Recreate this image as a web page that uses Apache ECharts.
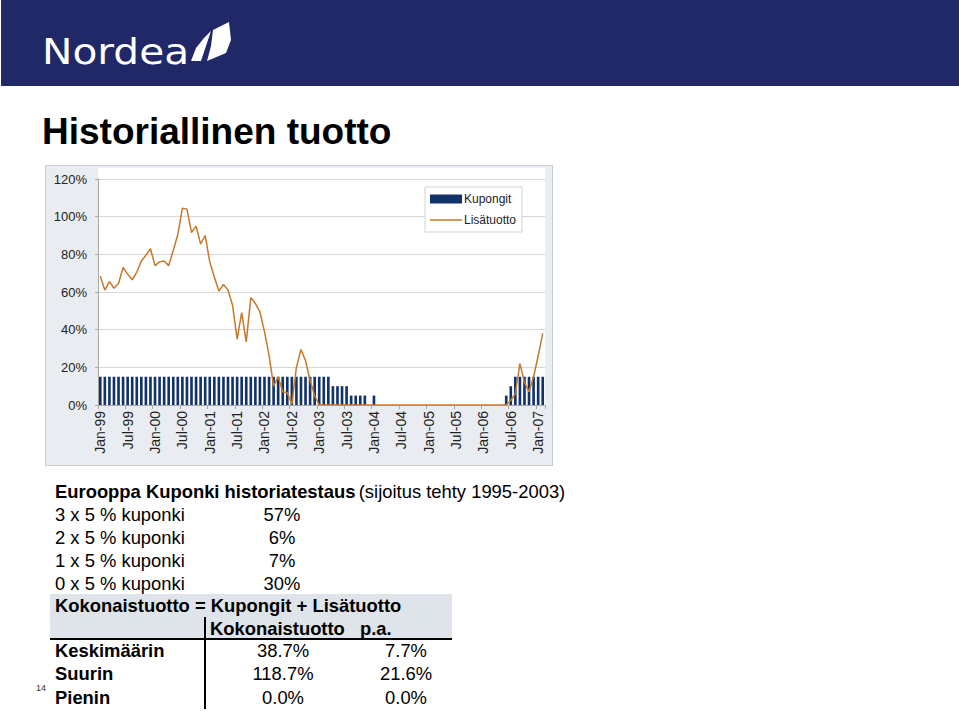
<!DOCTYPE html>
<html>
<head>
<meta charset="utf-8">
<script src="https://cdn.jsdelivr.net/npm/echarts@6/dist/echarts.min.js"></script>
<style>
html,body{margin:0;padding:0;background:#fff;}
#chart{width:959px;height:711px;}
</style>
</head>
<body>
<div id="chart"></div>
<script>
const categories = [
 'Jan-99','Feb-99','Mar-99','Apr-99','May-99','Jun-99','Jul-99','Aug-99','Sep-99','Oct-99','Nov-99','Dec-99',
 'Jan-00','Feb-00','Mar-00','Apr-00','May-00','Jun-00','Jul-00','Aug-00','Sep-00','Oct-00','Nov-00','Dec-00',
 'Jan-01','Feb-01','Mar-01','Apr-01','May-01','Jun-01','Jul-01','Aug-01','Sep-01','Oct-01','Nov-01','Dec-01',
 'Jan-02','Feb-02','Mar-02','Apr-02','May-02','Jun-02','Jul-02','Aug-02','Sep-02','Oct-02','Nov-02','Dec-02',
 'Jan-03','Feb-03','Mar-03','Apr-03','May-03','Jun-03','Jul-03','Aug-03','Sep-03','Oct-03','Nov-03','Dec-03',
 'Jan-04','Feb-04','Mar-04','Apr-04','May-04','Jun-04','Jul-04','Aug-04','Sep-04','Oct-04','Nov-04','Dec-04',
 'Jan-05','Feb-05','Mar-05','Apr-05','May-05','Jun-05','Jul-05','Aug-05','Sep-05','Oct-05','Nov-05','Dec-05',
 'Jan-06','Feb-06','Mar-06','Apr-06','May-06','Jun-06','Jul-06','Aug-06','Sep-06','Oct-06','Nov-06','Dec-06',
 'Jan-07','Feb-07'
];

// Kupongit (%), monthly
const kupongit = [
 15,15,15,15,15,15,15,15,15,15,15,15,
 15,15,15,15,15,15,15,15,15,15,15,15,
 15,15,15,15,15,15,15,15,15,15,15,15,
 15,15,15,15,15,15,15,15,15,15,15,15,
 15,15,15,10,10,10,10,5,5,5,5,0,
 5,0,0,0,0,0,0,0,0,0,0,0,
 0,0,0,0,0,0,0,0,0,0,0,0,
 0,0,0,0,0,5,10,15,15,15,15,15,
 15,15
];

// Lisätuotto (%), monthly
const lisatuotto = [
 68.5,61,65.5,62,64.5,73,69.5,66.5,70.5,76.5,79.5,83,
 74,76,76.5,74,82,90.5,104.5,104,91.5,95,85.5,90,
 76,68,60.5,64,61,53,35,49,33.5,57,54,49.5,
 39,26.5,10,15,7,6.5,0.5,20,29.5,23.5,13,5,
 0,0,0,0,0,0,0,0,0,0,0,0,
 0,0,0,0,0,0,0,0,0,0,0,0,
 0,0,0,0,0,0,0,0,0,0,0,0,
 0,0,0,0,0,0,2.5,6,22,12,7,15,
 26,38
];

const yTicks = [0,20,40,60,80,100,120];

const seriesNames = ['Kupongit','Lisätuotto'];

const couponRows = [
 ['3 x 5 % kuponki','57%'],
 ['2 x 5 % kuponki','6%'],
 ['1 x 5 % kuponki','7%'],
 ['0 x 5 % kuponki','30%']
];
const statRows = [
 ['Keskimäärin','38.7%','7.7%'],
 ['Suurin','118.7%','21.6%'],
 ['Pienin','0.0%','0.0%']
];

const FONT = '"Liberation Sans", Arial, Helvetica, sans-serif';
const FS = '18.4px ';
const chart = echarts.init(document.getElementById('chart'), null, {renderer:'svg'});

const gfx = [];
// header band
gfx.push({type:'rect', z:-20, shape:{x:1,y:0,width:958,height:86}, style:{fill:'#202867'}});
gfx.push({type:'text', x:42, y:51, scaleX:1.13, originX:0, originY:0, style:{text:'Nordea', font:'36px "DejaVu Sans", sans-serif', fill:'#fff', align:'left', verticalAlign:'middle'}});
gfx.push({type:'polygon', shape:{points:[[191,61],[196,48],[204,38],[211,31],[206,46],[201,61]]}, style:{fill:'#fff'}});
gfx.push({type:'polygon', shape:{points:[[213,30],[229,22],[231,40],[226,53],[207,61],[211,46]]}, style:{fill:'#fff'}});
// title
gfx.push({type:'text', x:42, y:131, style:{text:'Historiallinen tuotto', font:'bold 37px '+FONT, fill:'#000', align:'left', verticalAlign:'middle'}});
// chart panel
gfx.push({type:'rect', z:-20, shape:{x:45.5,y:165.5,width:507,height:300}, style:{fill:'#e9ecf0', stroke:'#c6c9cd', lineWidth:1}});
gfx.push({type:'rect', z:-19, shape:{x:98,y:168,width:447,height:237}, style:{fill:'#ffffff'}});
// bottom text block
gfx.push({type:'text', x:55, y:491, style:{text:'{b|Eurooppa Kuponki historiatestaus} {n|(sijoitus tehty 1995-2003)}', fill:'#000', align:'left', verticalAlign:'middle',
  rich:{b:{font:'bold '+FS+FONT, fill:'#000'}, n:{font:FS+FONT, fill:'#000'}}}});
couponRows.forEach((r,i)=>{
  const y = 514 + i*23;
  gfx.push({type:'text', x:55, y:y, style:{text:r[0], font:FS+FONT, fill:'#000', align:'left', verticalAlign:'middle'}});
  gfx.push({type:'text', x:282, y:y, style:{text:r[1], font:FS+FONT, fill:'#000', align:'center', verticalAlign:'middle'}});
});
gfx.push({type:'rect', z:-20, shape:{x:50,y:594,width:402,height:45}, style:{fill:'#dfe4ea'}});
gfx.push({type:'text', x:55, y:605, style:{text:'Kokonaistuotto = Kupongit + Lisätuotto', font:'bold '+FS+FONT, fill:'#000', align:'left', verticalAlign:'middle'}});
gfx.push({type:'text', x:210, y:628, style:{text:'Kokonaistuotto', font:'bold '+FS+FONT, fill:'#000', align:'left', verticalAlign:'middle'}});
gfx.push({type:'text', x:360, y:628, style:{text:'p.a.', font:'bold '+FS+FONT, fill:'#000', align:'left', verticalAlign:'middle'}});
gfx.push({type:'line', shape:{x1:50,y1:639,x2:452,y2:639}, style:{stroke:'#000', lineWidth:2}});
gfx.push({type:'line', shape:{x1:205,y1:617,x2:205,y2:709}, style:{stroke:'#000', lineWidth:2}});
statRows.forEach((r,i)=>{
  const y = 650 + i*23.5;
  gfx.push({type:'text', x:55, y:y, style:{text:r[0], font:'bold '+FS+FONT, fill:'#000', align:'left', verticalAlign:'middle'}});
  gfx.push({type:'text', x:283, y:y, style:{text:r[1], font:FS+FONT, fill:'#000', align:'center', verticalAlign:'middle'}});
  gfx.push({type:'text', x:406, y:y, style:{text:r[2], font:FS+FONT, fill:'#000', align:'center', verticalAlign:'middle'}});
});
gfx.push({type:'text', x:36, y:688, style:{text:'14', font:'9px '+FONT, fill:'#333', align:'left', verticalAlign:'middle'}});

chart.setOption({
  animation:false,
  textStyle:{fontFamily:FONT},
  graphic:{elements:gfx},
  grid:{left:98, right:414, top:179, bottom:306, containLabel:false},
  legend:{
    orient:'vertical', left:425, top:187,
    backgroundColor:'#fff', borderColor:'#cfd2d6', borderWidth:1,
    padding:[6,6,6,5], itemWidth:32, itemHeight:9, itemGap:9,
    textStyle:{fontSize:12, color:'#222', fontFamily:FONT, padding:[0,0,0,-3]},
    data:[{name:seriesNames[0], icon:'rect'}, {name:seriesNames[1], icon:'path://M0,0 L32,0 L32,1.5 L0,1.5 Z'}]
  },
  xAxis:{
    type:'category', data:categories, boundaryGap:true,
    axisLine:{show:true, lineStyle:{color:'#a9a9a9', width:1}},
    axisTick:{show:true, interval:5, alignWithLabel:false, length:4, lineStyle:{color:'#a9a9a9'}},
    axisLabel:{interval:5, rotate:90, margin:6, fontSize:14, color:'#222', fontFamily:FONT},
    splitLine:{show:false}
  },
  yAxis:{
    type:'value', min:yTicks[0], max:yTicks[yTicks.length-1], interval:20,
    axisLine:{show:true, lineStyle:{color:'#a9a9a9', width:1}},
    axisTick:{show:true, length:3, lineStyle:{color:'#a9a9a9'}},
    axisLabel:{formatter:'{value}%', fontSize:13, color:'#222', margin:11, fontFamily:FONT},
    splitLine:{show:true, lineStyle:{color:'#d6d6d6', width:1}}
  },
  series:[
    {name:seriesNames[0], type:'bar', data:kupongit, barWidth:'58%', itemStyle:{color:'#12336a'}, z:2},
    {name:seriesNames[1], type:'line', data:lisatuotto, symbol:'none', showSymbol:false,
     lineStyle:{color:'#c8782a', width:1.5}, itemStyle:{color:'#c8782a'}, z:3}
  ]
});
</script>
</body>
</html>
